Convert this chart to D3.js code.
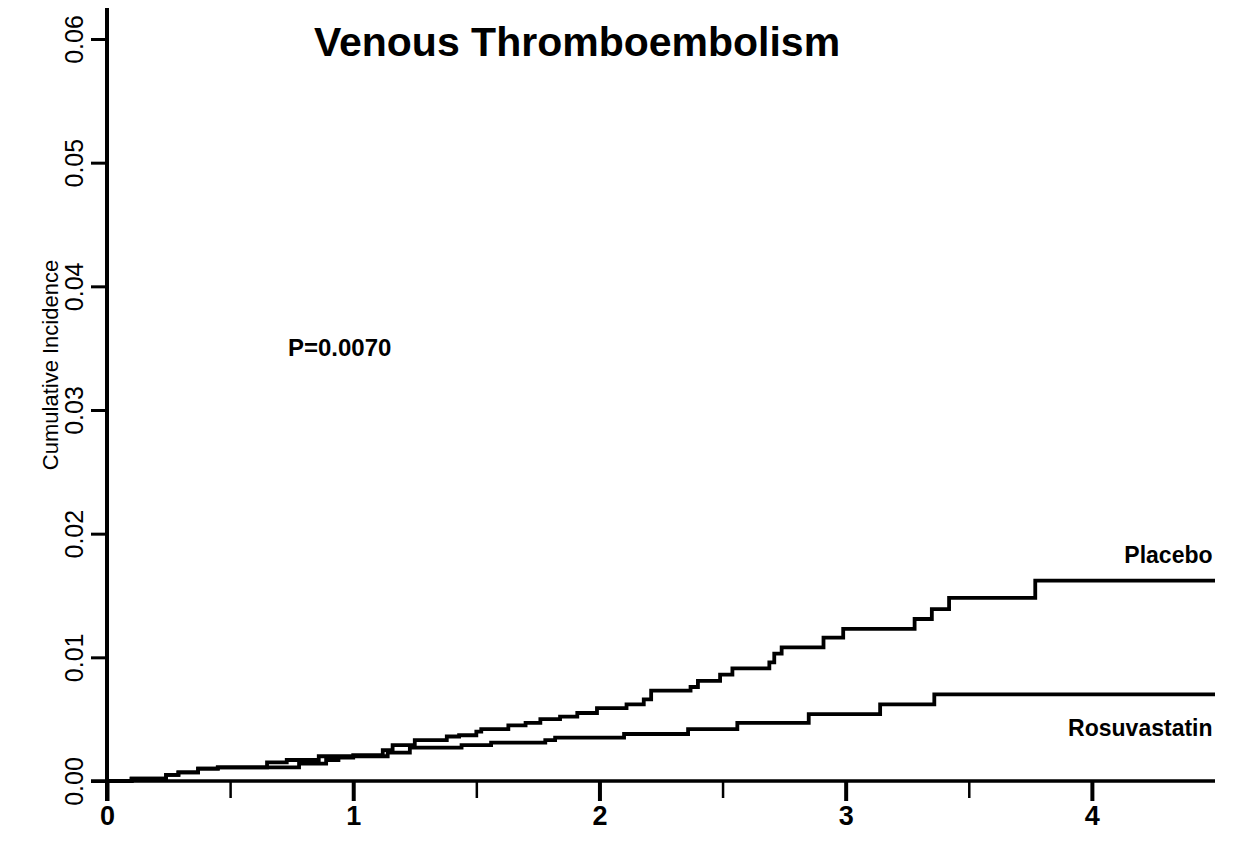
<!DOCTYPE html>
<html lang="en">

<head>
  <meta charset="UTF-8">
  <title>Venous Thromboembolism</title>
  <style>
    html,
    body {
      margin: 0;
      background: #fff;
    }

    svg {
      display: block;
    }
  </style>
</head>

<body>
  <svg id="chart" width="1235" height="842"></svg>
  <script src="https://cdn.jsdelivr.net/npm/d3@7"></script>
  <script>
    // step curves (years, cumulative incidence)
    var placeboTime = [0, 0.10, 0.24, 0.29, 0.37, 0.45, 0.78, 0.89, 0.94, 1.00, 1.12, 1.16, 1.25, 1.38, 1.43, 1.50, 1.52, 1.63, 1.70, 1.76, 1.84, 1.91, 1.99, 2.11, 2.18, 2.21, 2.37, 2.40, 2.49, 2.54, 2.69, 2.71, 2.74, 2.91, 2.99, 3.28, 3.35, 3.42, 3.77, 4.5]
    var placeboInc = [0, 0.0002, 0.0005, 0.0007, 0.0010, 0.0011, 0.0014, 0.0017, 0.0019, 0.0021, 0.0025, 0.0029, 0.0033, 0.0036, 0.0037, 0.0040, 0.0042, 0.0045, 0.0047, 0.0050, 0.0052, 0.0055, 0.0059, 0.0062, 0.0066, 0.0073, 0.0076, 0.0081, 0.0086, 0.0091, 0.0096, 0.0103, 0.0108, 0.0116, 0.0123, 0.0131, 0.0139, 0.0148, 0.0162, 0.0162]

    var rosuvaTime = [0, 0.10, 0.24, 0.29, 0.37, 0.45, 0.65, 0.73, 0.86, 1.14, 1.23, 1.44, 1.56, 1.78, 1.82, 2.10, 2.36, 2.56, 2.85, 3.14, 3.36, 4.5]
    var rosuvaInc = [0, 0.0002, 0.0005, 0.0007, 0.0010, 0.0011, 0.0015, 0.0017, 0.0020, 0.0023, 0.0027, 0.0029, 0.0031, 0.0033, 0.0035, 0.0038, 0.0042, 0.0047, 0.0054, 0.0062, 0.0070, 0.0070]

    var xMajor = [0, 1, 2, 3, 4]
    var xMinor = [0.5, 1.5, 2.5, 3.5]
    var yTicks = [0, 0.01, 0.02, 0.03, 0.04, 0.05, 0.06]

    var font = "'Liberation Sans', Arial, sans-serif"

    var svg = d3.select('#chart')
      .attr('font-family', font)

    var x = d3.scaleLinear().domain([0, 4.5]).range([107, 1215])
    var y = d3.scaleLinear().domain([0, 0.06]).range([781, 39])

    // x axis
    var xAxis = svg.append('g')
      .attr('transform', `translate(0,${y(0)})`)
      .call(d3.axisBottom(x).tickValues(xMajor).tickSize(20).tickPadding(5).tickFormat(d3.format('d')))
    xAxis.select('.domain').remove()
    xAxis.selectAll('.tick line').attr('stroke', '#000').attr('stroke-width', 4)
    xAxis.selectAll('.tick text')
      .attr('fill', '#000')
      .attr('font-family', font)
      .attr('font-size', 27)
      .attr('font-weight', 'bold')

    var xMinorAxis = svg.append('g')
      .attr('transform', `translate(0,${y(0)})`)
      .call(d3.axisBottom(x).tickValues(xMinor).tickSize(17).tickFormat(''))
    xMinorAxis.select('.domain').remove()
    xMinorAxis.selectAll('.tick line').attr('stroke', '#000').attr('stroke-width', 2.5)

    // y axis
    var yAxis = svg.append('g')
      .attr('transform', `translate(${x(0)},0)`)
      .call(d3.axisLeft(y).tickValues(yTicks).tickSize(16).tickFormat(d3.format('.2f')))
    yAxis.select('.domain').remove()
    yAxis.selectAll('.tick line').attr('stroke', '#000').attr('stroke-width', 3)
    yAxis.selectAll('.tick text')
      .attr('fill', '#000')
      .attr('font-family', font)
      .attr('font-size', 25)
      .attr('transform', 'rotate(-90)')
      .attr('text-anchor', 'middle')
      .attr('x', 0)
      .attr('y', -24)
      .attr('dy', null)

    // axis lines, both run a little past the origin
    svg.append('line')
      .attr('x1', x(0) - 16).attr('x2', x(4.5))
      .attr('y1', y(0)).attr('y2', y(0))
      .attr('stroke', '#000').attr('stroke-width', 3.5)
    svg.append('line')
      .attr('x1', x(0)).attr('x2', x(0))
      .attr('y1', y(0.0625)).attr('y2', y(0) + 20)
      .attr('stroke', '#000').attr('stroke-width', 4)

    // curves
    var line = d3.line()
      .x(d => x(d[0]))
      .y(d => y(d[1]))
      .curve(d3.curveStepAfter)

    var series = [
      d3.zip(placeboTime, placeboInc),
      d3.zip(rosuvaTime, rosuvaInc)
    ]

    svg.append('g')
      .attr('fill', 'none')
      .attr('stroke', '#000')
      .attr('stroke-width', 3.8)
      .selectAll('path')
      .data(series)
      .join('path')
      .attr('d', line)

    // texts
    svg.append('text')
      .attr('x', 577)
      .attr('y', 56)
      .attr('text-anchor', 'middle')
      .attr('font-size', 41)
      .attr('font-weight', 'bold')
      .text('Venous Thromboembolism')

    svg.append('text')
      .attr('transform', `translate(58,365) rotate(-90)`)
      .attr('text-anchor', 'middle')
      .attr('font-size', 22)
      .text('Cumulative Incidence')

    svg.append('text')
      .attr('x', x(0.735))
      .attr('y', y(0.0344))
      .attr('font-size', 24)
      .attr('font-weight', 'bold')
      .text('P=0.0070')

    svg.append('text')
      .attr('x', x(4.49))
      .attr('y', y(0.0176))
      .attr('text-anchor', 'end')
      .attr('font-size', 23)
      .attr('font-weight', 'bold')
      .text('Placebo')

    svg.append('text')
      .attr('x', x(4.49))
      .attr('y', y(0.0036))
      .attr('text-anchor', 'end')
      .attr('font-size', 23)
      .attr('font-weight', 'bold')
      .text('Rosuvastatin')
  </script>
</body>

</html>
